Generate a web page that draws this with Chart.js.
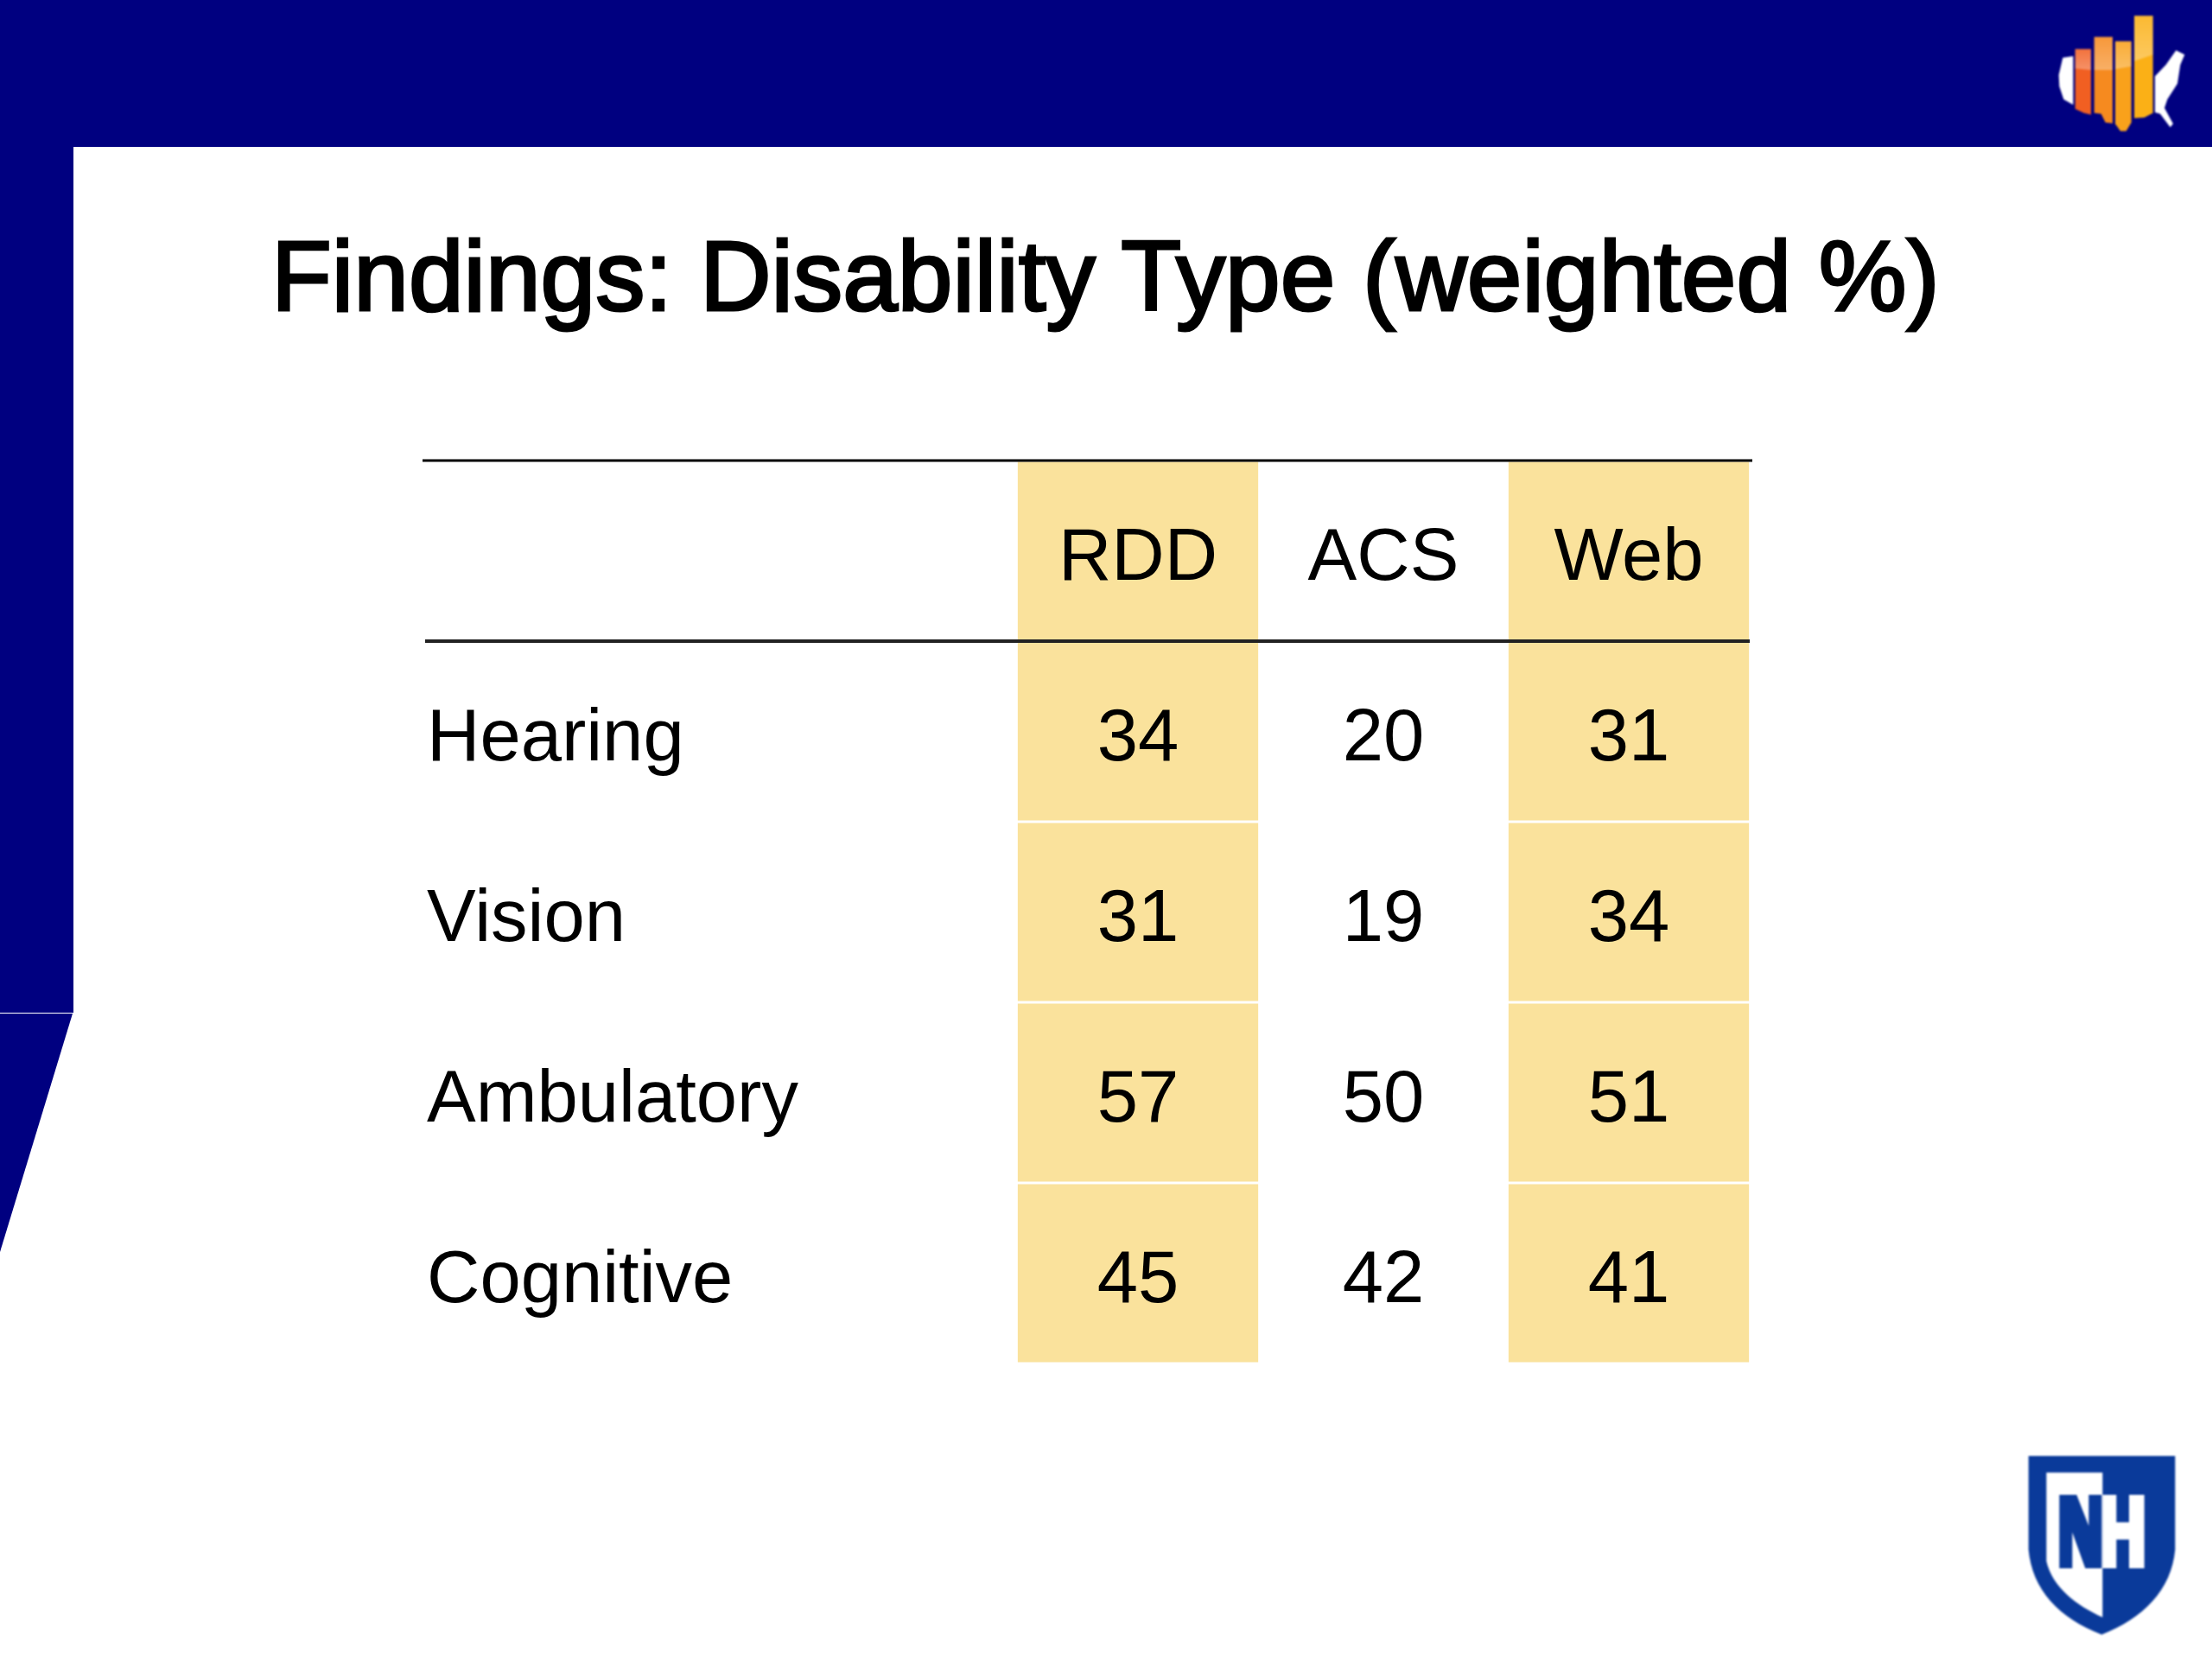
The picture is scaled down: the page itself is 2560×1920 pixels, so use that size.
<!DOCTYPE html>
<html lang="en">
<head>
    <meta charset="UTF-8">
    <title>Findings: Disability Type (weighted %)</title>
    <script src="https://cdn.jsdelivr.net/npm/chart.js"></script>
    <style>
        html, body { margin: 0; padding: 0; background: #fff; }
        body { width: 2560px; height: 1920px; position: relative; overflow: hidden; }
        .navy { position: absolute; background: #000080; }
        #bannerTop { left: 0; top: 0; width: 2560px; height: 170px; }
        #bannerLeft { left: 0; top: 170px; width: 85px; height: 1002px; }
        #bannerTail { left: 0; top: 1173px; width: 84px; height: 276px; clip-path: polygon(0 0, 100% 0, 0 100%); }
        h1 {
            position: absolute; left: 314px; top: 253px; margin: 0;
            font: normal 114.4px "Liberation Sans", Arial, sans-serif;
            -webkit-text-stroke: 3px #000; color: #000; white-space: nowrap;
        }
        canvas { position: absolute; left: 0; top: 0; }
        svg { position: absolute; filter: blur(0.8px); }
    </style>
</head>
<body>
    <div class="navy" id="bannerTop"></div>
    <div class="navy" id="bannerLeft"></div>
    <div class="navy" id="bannerTail"></div>
    <h1>Findings: Disability Type (weighted %)</h1>

    <!-- map logo, top right -->
    <svg style="left:2300px;top:0" width="260" height="180" viewBox="0 0 780 540">
        <defs>
            <linearGradient id="gloss" x1="0" y1="0" x2="0" y2="1">
                <stop offset="0" stop-color="#fff" stop-opacity="0.12"/>
                <stop offset="1" stop-color="#fff" stop-opacity="0.32"/>
            </linearGradient>
        </defs>
        <path fill="#fff" d="M262,200 L298,195 L298,364 L265,345 L250,300 L248,260 Z"/>
        <path fill="#fff" d="M582,265 L620,225 L655,175 L685,190 L670,225 L660,290 L625,345 L615,375 L645,430 L635,442 L600,395 L582,390 Z"/>
        <path fill="#f15f22" d="M305,170 L360,170 L360,398 L335,392 L305,378 Z"/>
        <path fill="#f68a1f" d="M371,128 L435,128 L435,428 L410,425 L395,395 L371,392 Z"/>
        <path fill="#f9a11b" d="M444,143 L500,143 L500,425 L482,455 L462,455 L444,430 Z"/>
        <path fill="#fbb016" d="M510,55 L575,55 L575,392 L545,408 L510,410 Z"/>
        <path fill="url(#gloss)" d="M305,170 L360,170 L360,243 L305,238 Z"/>
        <path fill="url(#gloss)" d="M371,128 L435,128 L435,243 L371,243 Z"/>
        <path fill="url(#gloss)" d="M444,143 L500,143 L500,230 L444,240 Z"/>
        <path fill="url(#gloss)" d="M510,55 L575,55 L575,190 L510,212 Z"/>
    </svg>

    <!-- shield logo, bottom right -->
    <svg style="left:2300px;top:1660px" width="260" height="260" viewBox="0 0 780 780">
        <path fill="#0a3a9a" d="M143,75 L652,75 L652,400 C640,540 540,640 397,695 C250,640 155,540 143,400 Z"/>
        <path fill="#fff" d="M205,133 L400,133 L400,635 C310,595 225,530 205,440 Z"/>
        <path fill="#0a3a9a" d="M250,210 L310,210 L352,318 L352,210 L397,210 L397,465 L340,465 L295,340 L295,465 L250,465 Z"/>
        <path fill="#fff" d="M400,210 L448,210 L448,305 L492,305 L492,210 L545,210 L545,465 L492,465 L492,365 L448,365 L448,465 L400,465 Z"/>
    </svg>

    <canvas id="tableChart" width="2560" height="1920"></canvas>

    <script>
        // Table content
        const rowLabels = ['', 'Hearing', 'Vision', 'Ambulatory', 'Cognitive'];
        const columnLabels = ['RDD', 'ACS', 'Web'];
        const rddValues = [34, 31, 57, 45];
        const acsValues = [20, 19, 50, 42];
        const webValues = [31, 34, 51, 41];

        const cellFill = '#fae29c';
        const textFont = '85px "Liberation Sans", Arial, sans-serif';
        const textShift = 10; // slide text sits a little under the cell centre

        Chart.defaults.font.family = '"Liberation Sans", Arial, sans-serif';
        Chart.defaults.color = '#000';

        // Each column is a floating bar per row on a hidden 0..3 axis
        function columnCells(index) {
            return rowLabels.map(() => [index + 0.01, index + 0.99]);
        }

        // Draws the headers and numbers in the cells and the two rules of the table
        const tablePlugin = {
            id: 'tablePlugin',
            afterDatasetsDraw(chart) {
                const { ctx, scales } = chart;
                const series = [rddValues, acsValues, webValues];
                ctx.save();
                ctx.font = textFont;
                ctx.fillStyle = '#000';
                ctx.textAlign = 'center';
                ctx.textBaseline = 'middle';
                series.forEach((values, c) => {
                    const x = scales.x.getPixelForValue(c);
                    ctx.fillText(columnLabels[c], x, scales.y.getPixelForValue(0) + textShift);
                    values.forEach((value, r) => {
                        ctx.fillText(String(value), x, scales.y.getPixelForValue(r + 1) + textShift);
                    });
                });

                const rowHeight = scales.y.getPixelForValue(1) - scales.y.getPixelForValue(0);
                ctx.strokeStyle = '#000';
                ctx.lineWidth = 3;
                ctx.beginPath();
                ctx.moveTo(489, scales.y.top);
                ctx.lineTo(2028, scales.y.top);
                ctx.stroke();
                ctx.strokeStyle = '#222';
                ctx.lineWidth = 4;
                ctx.beginPath();
                ctx.moveTo(492, scales.y.top + rowHeight);
                ctx.lineTo(2025, scales.y.top + rowHeight);
                ctx.stroke();
                ctx.restore();
            }
        };

        new Chart(document.getElementById('tableChart').getContext('2d'), {
            type: 'bar',
            data: {
                labels: rowLabels,
                datasets: columnLabels.map((name, i) => ({
                    label: name,
                    data: columnCells(i),
                    xAxisID: 'cols',
                    yAxisID: 'y',
                    backgroundColor: name === 'ACS' ? 'rgba(0,0,0,0)' : cellFill,
                    borderWidth: 0,
                    borderSkipped: false,
                    grouped: false,
                    barPercentage: 1,
                    categoryPercentage: 0.986
                }))
            },
            options: {
                indexAxis: 'y',
                responsive: false,
                animation: false,
                devicePixelRatio: 1,
                layout: { padding: { left: 494, right: 533, top: 533, bottom: 342 } },
                plugins: {
                    legend: { display: false },
                    tooltip: { enabled: false },
                    title: { display: false }
                },
                scales: {
                    cols: { type: 'linear', min: 0, max: 3, display: false },
                    x: {
                        type: 'category',
                        labels: columnLabels,
                        position: 'top',
                        offset: true,
                        display: false
                    },
                    y: {
                        type: 'category',
                        position: 'left',
                        offset: true,
                        border: { display: false },
                        grid: { display: false, drawTicks: false },
                        ticks: { font: { size: 85 }, color: '#000', crossAlign: 'far', autoSkip: false, labelOffset: 10 },
                        afterFit(scale) { scale.width = 681; }
                    }
                }
            },
            plugins: [tablePlugin]
        });
    </script>
</body>
</html>
